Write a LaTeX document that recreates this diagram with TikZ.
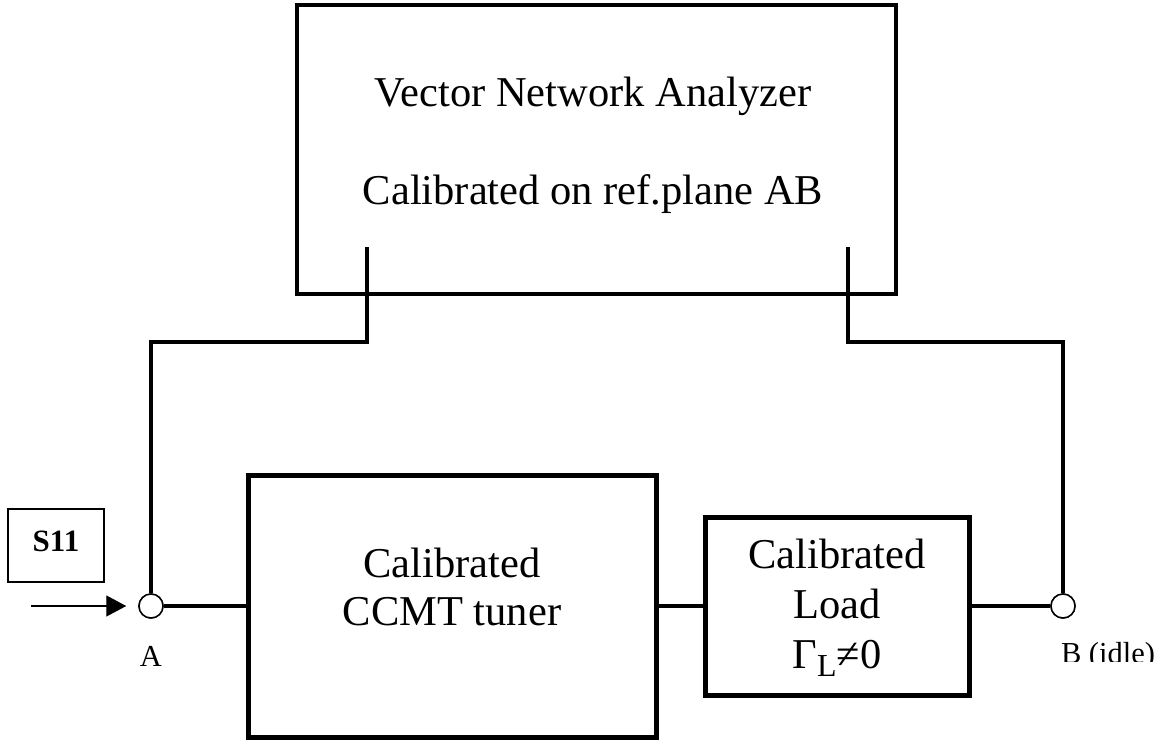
\documentclass[tikz,border=0pt]{standalone}
\usepackage{fontspec}
\setmainfont{Liberation Serif}
\usetikzlibrary{arrows.meta}
\begin{document}
\begin{tikzpicture}[x=1pt,y=-1pt,
  box/.style={draw,rectangle,inner sep=0pt},
  big/.style={font=\fontsize{42.5}{48}\selectfont, anchor=base, inner sep=0pt},
  small/.style={font=\fontsize{30.5}{34}\selectfont, anchor=base, inner sep=0pt},
  port/.style={draw,circle,line width=1.5pt,minimum size=24pt,inner sep=0pt,fill=white},
  lead/.style={line width=3.3pt},
  wire/.style={line width=3.5pt}]
\useasboundingbox (0,0) rectangle (1160,740);
% boxes
\node[box,line width=4pt,minimum width=599pt,minimum height=289pt] (vna) at (596.5,149.5) {};
\node[box,line width=5pt,minimum width=408pt,minimum height=262pt] (tuner) at (452,606) {};
\node[box,line width=5pt,minimum width=264pt,minimum height=178pt] (load) at (837,606) {};
\node[box,line width=1.3pt,minimum width=96pt,minimum height=73pt] (s11box) at (56,545.5) {};
% texts
\node[big] (vna1) at (593,106) {Vector Network Analyzer};
\node[big] (vna2) at (593,204) {Calibrated on ref.plane AB};
\node[big] (tun1) at (452,577) {Calibrated};
\node[big] (tun2) at (452,625) {CCMT tuner};
\node[big] (lo1) at (837,568) {Calibrated};
\node[big] (lo2) at (837,618) {Load};
\node[big] (lo3) at (837,668) {Γ\raisebox{-8pt}{\fontsize{32}{32}\selectfont L}≠0};
\node[small,font=\fontsize{31}{34}\selectfont\bfseries] (s11) at (56,551) {S11};
% ports
\node[port] (a) at (151,606) {};
\node[port] (b) at (1063,606) {};
\node[small] (alab) at (151,666) {A};
\begin{scope}
\clip (1000,600) rectangle (1160,661);
\node[small] (blab) at (1108,663) {B (idle)};
\end{scope}
% leads from VNA
\coordinate (vl) at (367,247);
\coordinate (vlc) at (367,342);
\coordinate (vr) at (848,247);
\coordinate (vrc) at (848,342);
\draw[lead] (vl) -- (vlc) -| (a.north);
\draw[lead] (vr) -- (vrc) -| (b.north);
% wires
\draw[wire] (a.east) -- (tuner.west);
\draw[wire] (tuner.east) -- (load.west);
\draw[wire] (load.east) -- (b.west);
% input arrow
\coordinate (src) at (31,606);
\draw[line width=1.3pt,-{Triangle[length=20pt,width=21pt]},shorten >=12pt] (src) -- (a.west);
\node[port] at (a) {};
\node[port] at (b) {};
\end{tikzpicture}
\end{document}
